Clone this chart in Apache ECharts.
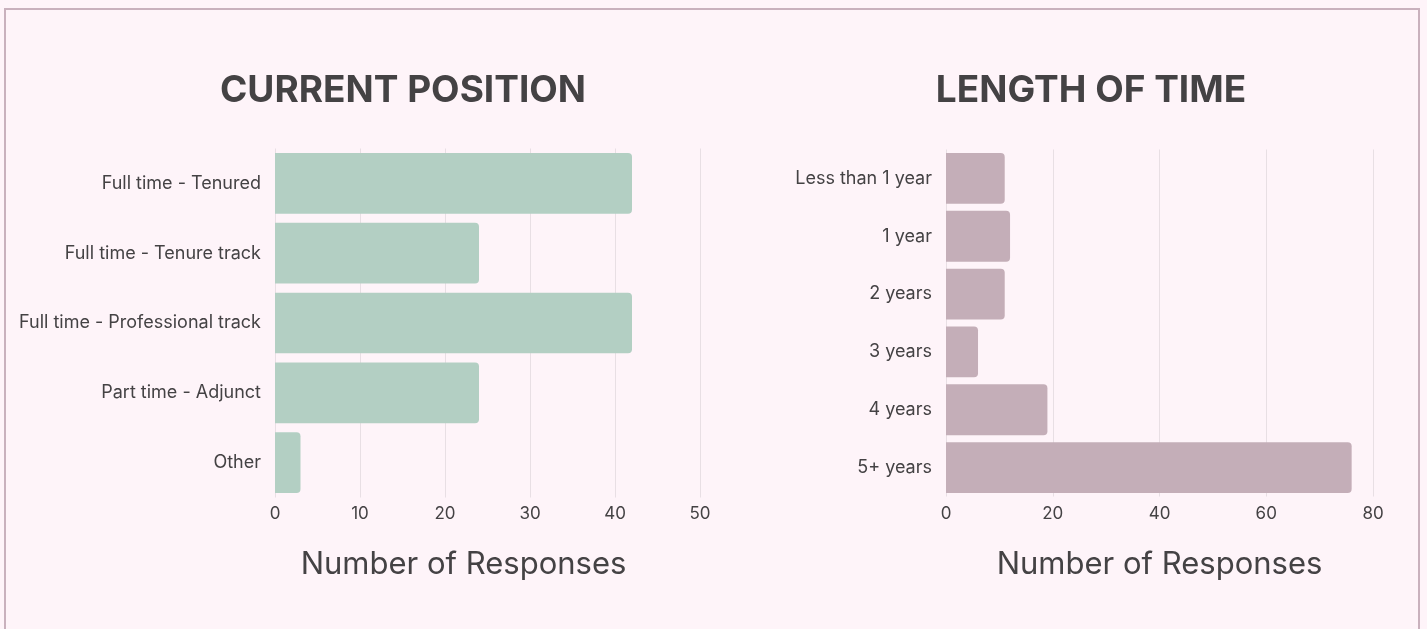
<!DOCTYPE html>
<html>
<head>
<meta charset="utf-8">
<script src="https://cdn.jsdelivr.net/npm/echarts@6/dist/echarts.min.js"></script>
<style>
html,body{margin:0;padding:0;background:#fef4f9;}
#chart{width:1427px;height:629px;}
</style>
</head>
<body>
<div id="chart"></div>
<script>
const positionCategories = ['Full time - Tenured','Full time - Tenure track','Full time - Professional track','Part time - Adjunct','Other'];
const positionValues = [42, 24, 42, 24, 3];
const timeCategories = ['Less than 1 year','1 year','2 years','3 years','4 years','5+ years'];
const timeValues = [11, 12, 11, 6, 19, 76];
const positionTicks = [0,10,20,30,40,50];
const timeTicks = [0,20,40,60,80];

const txt = '#444244';
const font = 'Inter, "Public Sans", Roboto, sans-serif';
const chart = echarts.init(document.getElementById('chart'));
chart.setOption({
  backgroundColor: '#fef4f9',
  textStyle: {fontFamily: font},
  graphic: [{type:'rect', shape:{x:5, y:9, width:1414, height:700}, style:{fill:'none', stroke:'#c9b1bd', lineWidth:2}, silent:true}],
  title: [
    {text:'CURRENT POSITION', left:398, top:67, textAlign:'center', textStyle:{fontSize:37, fontWeight:'bold', color:txt, fontFamily:font}},
    {text:'LENGTH OF TIME', left:1086, top:67, textAlign:'center', textStyle:{fontSize:37, fontWeight:'bold', color:txt, fontFamily:font}}
  ],
  grid: [
    {left:275, right:727, top:148.5, bottom:131.5},
    {left:946, right:54, top:149.5, bottom:132.5}
  ],
  xAxis: [
    {type:'value', gridIndex:0, min:positionTicks[0], max:positionTicks[positionTicks.length-1], interval:10,
     name:'Number of Responses', nameLocation:'middle', nameGap:52,
     nameTextStyle:{fontSize:31, color:txt, padding:[0,48,0,0]},
     axisLine:{show:false}, axisTick:{show:false},
     axisLabel:{fontSize:17, color:txt, margin:8},
     splitLine:{lineStyle:{color:'#e8dfe4'}}},
    {type:'value', gridIndex:1, min:timeTicks[0], max:timeTicks[timeTicks.length-1], interval:20,
     name:'Number of Responses', nameLocation:'middle', nameGap:53,
     nameTextStyle:{fontSize:31, color:txt},
     axisLine:{show:false}, axisTick:{show:false},
     axisLabel:{fontSize:17, color:txt, margin:8.5},
     splitLine:{lineStyle:{color:'#e8dfe4'}}}
  ],
  yAxis: [
    {type:'category', gridIndex:0, data:positionCategories, inverse:true,
     axisLine:{show:false}, axisTick:{show:false},
     axisLabel:{fontSize:18, color:txt, margin:14}},
    {type:'category', gridIndex:1, data:timeCategories, inverse:true,
     axisLine:{show:false}, axisTick:{show:false},
     axisLabel:{fontSize:18, color:txt, margin:14}}
  ],
  series: [
    {type:'bar', xAxisIndex:0, yAxisIndex:0, data:positionValues, barCategoryGap:'13%',
     itemStyle:{color:'#b3cfc3', borderRadius:[0,4,4,0]}},
    {type:'bar', xAxisIndex:1, yAxisIndex:1, data:timeValues, barCategoryGap:'12%',
     itemStyle:{color:'#c4aeb8', borderRadius:[0,4,4,0]}}
  ]
});
</script>
</body>
</html>
